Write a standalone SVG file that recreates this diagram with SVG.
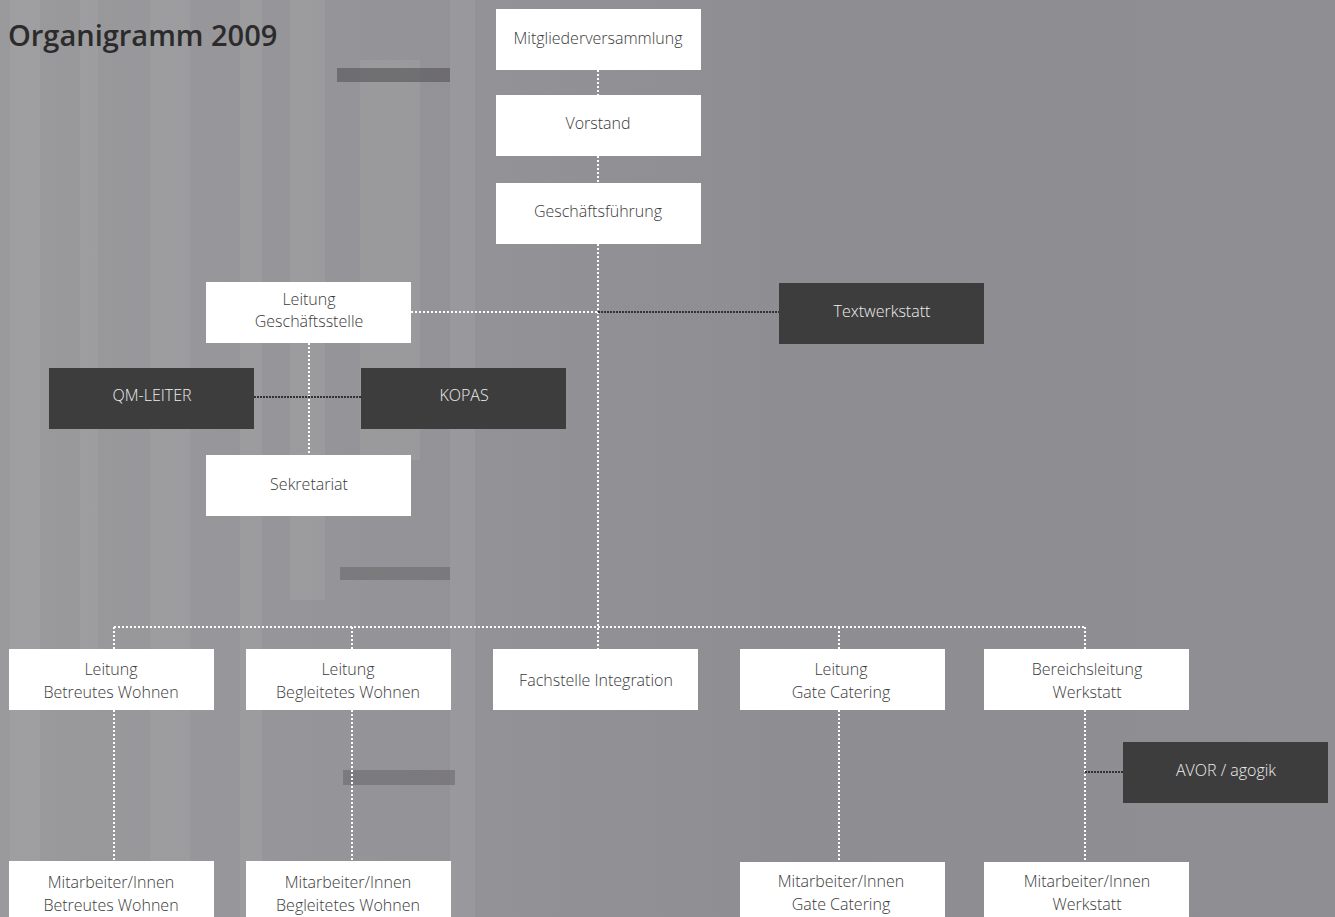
<svg xmlns="http://www.w3.org/2000/svg" width="1335" height="917" viewBox="0 0 1335 917">
<defs>
<linearGradient id="bg" x1="0" y1="0" x2="1" y2="0">
<stop offset="0" stop-color="#9a999c"/>
<stop offset="0.35" stop-color="#939296"/>
<stop offset="0.6" stop-color="#8e8d92"/>
<stop offset="1" stop-color="#8f8e93"/>
</linearGradient>
<style>
.w{fill:#ffffff}
.d{fill:#3d3d3d}
.t{font-family:"Open Sans","Liberation Sans",sans-serif;font-size:16px;font-weight:300;text-anchor:middle}
.tw{fill:#3a3a3a}
.td{fill:#eeeeee}
.lw{stroke:#ffffff;stroke-width:2;stroke-dasharray:2 2;fill:none}
.ld{stroke:#333333;stroke-width:2;stroke-dasharray:2 1;fill:none}
.s{fill:#b3b2b5;opacity:0.2}
</style>
</defs>
<rect x="0" y="0" width="1335" height="917" fill="url(#bg)"/>
<g id="background">
<rect class="s" x="10" y="0" width="30" height="917"/>
<rect class="s" x="80" y="0" width="18" height="700"/>
<rect class="s" x="150" y="0" width="40" height="917"/>
<rect class="s" x="240" y="0" width="22" height="917"/>
<rect class="s" x="290" y="0" width="35" height="600"/>
<rect class="s" x="360" y="60" width="60" height="400"/>
<rect class="s" x="450" y="0" width="25" height="917"/>
<rect x="337" y="68" width="113" height="14" fill="#5e5d60" opacity="0.7"/>
<rect x="340" y="567" width="110" height="13" fill="#6a696c" opacity="0.6"/>
<rect x="343" y="770" width="112" height="15" fill="#6a696c" opacity="0.6"/>
</g>
<text x="8" y="46" font-family="Open Sans, Liberation Sans, sans-serif" font-size="29" font-weight="600" fill="#2b2b2b">Organigramm 2009</text>
<g id="connectors">
<line class="lw" x1="598" y1="70" x2="598" y2="95"/>
<line class="lw" x1="598" y1="156" x2="598" y2="183"/>
<line class="lw" x1="598" y1="244" x2="598" y2="649"/>
<line class="lw" x1="411" y1="312" x2="598" y2="312"/>
<line class="ld" x1="598" y1="312" x2="779" y2="312"/>
<line class="lw" x1="309" y1="343" x2="309" y2="455"/>
<line class="ld" x1="254" y1="397" x2="361" y2="397"/>
<line class="lw" x1="114" y1="627" x2="1085" y2="627"/>
<line class="lw" x1="114" y1="627" x2="114" y2="649"/>
<line class="lw" x1="352" y1="627" x2="352" y2="649"/>
<line class="lw" x1="839" y1="627" x2="839" y2="649"/>
<line class="lw" x1="1085" y1="627" x2="1085" y2="649"/>
<line class="lw" x1="114" y1="710" x2="114" y2="861"/>
<line class="lw" x1="352" y1="710" x2="352" y2="861"/>
<line class="lw" x1="839" y1="710" x2="839" y2="862"/>
<line class="lw" x1="1085" y1="710" x2="1085" y2="862"/>
<line class="ld" x1="1085" y1="772" x2="1123" y2="772"/>
</g>
<g id="n-mitglieder"><rect class="w" x="496" y="9" width="205" height="61"/><text class="t tw" x="598" y="44">Mitgliederversammlung</text></g>
<g id="n-vorstand"><rect class="w" x="496" y="95" width="205" height="61"/><text class="t tw" x="598" y="129">Vorstand</text></g>
<g id="n-gf"><rect class="w" x="496" y="183" width="205" height="61"/><text class="t tw" x="598" y="217">Geschäftsführung</text></g>
<g id="n-lgs"><rect class="w" x="206" y="282" width="205" height="61"/><text class="t tw" x="309" y="305">Leitung</text><text class="t tw" x="309" y="327">Geschäftsstelle</text></g>
<g id="n-textwerkstatt"><rect class="d" x="779" y="283" width="205" height="61"/><text class="t td" x="882" y="317">Textwerkstatt</text></g>
<g id="n-qm"><rect class="d" x="49" y="368" width="205" height="61"/><text class="t td" x="152" y="401">QM-LEITER</text></g>
<g id="n-kopas"><rect class="d" x="361" y="368" width="205" height="61"/><text class="t td" x="464" y="401">KOPAS</text></g>
<g id="n-sekretariat"><rect class="w" x="206" y="455" width="205" height="61"/><text class="t tw" x="309" y="490">Sekretariat</text></g>
<g id="n-lbw"><rect class="w" x="9" y="649" width="205" height="61"/><text class="t tw" x="111" y="675">Leitung</text><text class="t tw" x="111" y="698">Betreutes Wohnen</text></g>
<g id="n-lbgw"><rect class="w" x="246" y="649" width="205" height="61"/><text class="t tw" x="348" y="675">Leitung</text><text class="t tw" x="348" y="698">Begleitetes Wohnen</text></g>
<g id="n-fachstelle"><rect class="w" x="493" y="649" width="205" height="61"/><text class="t tw" x="596" y="686">Fachstelle Integration</text></g>
<g id="n-lgc"><rect class="w" x="740" y="649" width="205" height="61"/><text class="t tw" x="841" y="675">Leitung</text><text class="t tw" x="841" y="698">Gate Catering</text></g>
<g id="n-blw"><rect class="w" x="984" y="649" width="205" height="61"/><text class="t tw" x="1087" y="675">Bereichsleitung</text><text class="t tw" x="1087" y="698">Werkstatt</text></g>
<g id="n-avor"><rect class="d" x="1123" y="742" width="205" height="61"/><text class="t td" x="1226" y="776">AVOR / agogik</text></g>
<g id="n-mbw"><rect class="w" x="9" y="861" width="205" height="61"/><text class="t tw" x="111" y="888">Mitarbeiter/Innen</text><text class="t tw" x="111" y="911">Betreutes Wohnen</text></g>
<g id="n-mbgw"><rect class="w" x="246" y="861" width="205" height="61"/><text class="t tw" x="348" y="888">Mitarbeiter/Innen</text><text class="t tw" x="348" y="911">Begleitetes Wohnen</text></g>
<g id="n-mgc"><rect class="w" x="740" y="862" width="205" height="61"/><text class="t tw" x="841" y="887">Mitarbeiter/Innen</text><text class="t tw" x="841" y="910">Gate Catering</text></g>
<g id="n-mw"><rect class="w" x="984" y="862" width="205" height="61"/><text class="t tw" x="1087" y="887">Mitarbeiter/Innen</text><text class="t tw" x="1087" y="910">Werkstatt</text></g>
</svg>
